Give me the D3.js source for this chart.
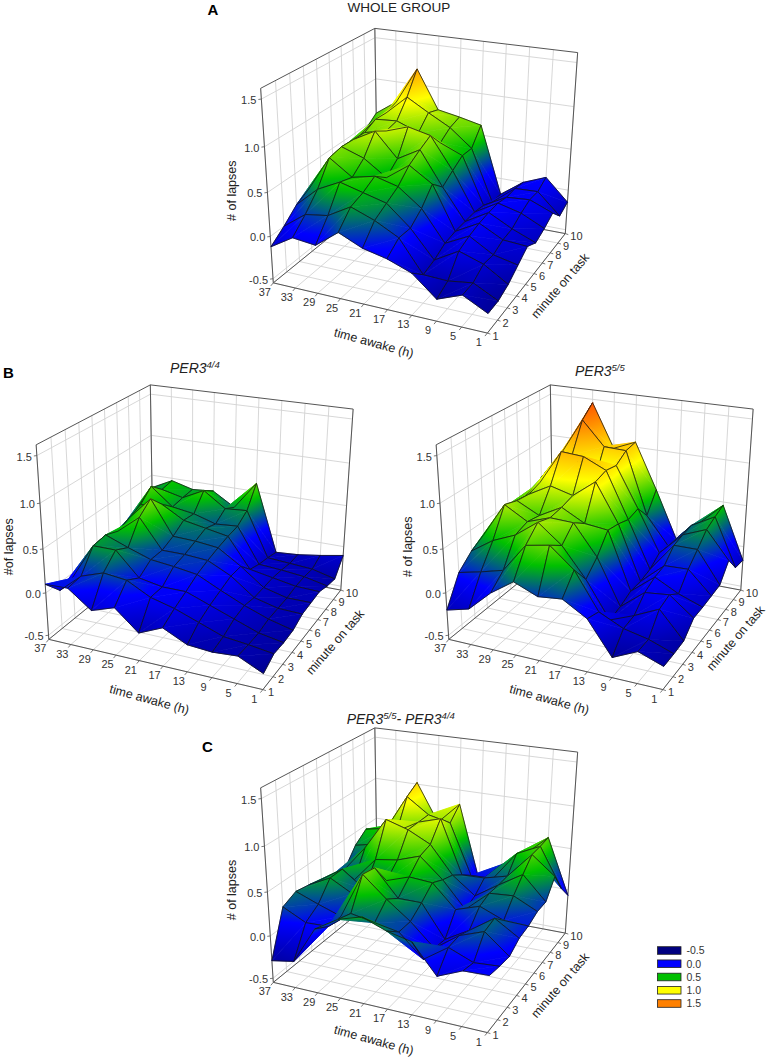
<!DOCTYPE html>
<html><head><meta charset="utf-8">
<script src="https://cdnjs.cloudflare.com/ajax/libs/d3/7.8.5/d3.min.js"></script>
<style>html,body{margin:0;padding:0;background:#fff}svg{display:block;font-family:"Liberation Sans",Arial,sans-serif}</style>
</head><body><svg id="c" width="767" height="1058"></svg>
<script>
// axis values
const timeTicks=[37,33,29,25,21,17,13,9,5,1];
const minuteTicks=[1,2,3,4,5,6,7,8,9,10];
const lapseTicks=[-0.5,0,0.5,1,1.5];
const legendLevels=[-0.5,0,0.5,1,1.5];
const legendColors=["#000080","#0000ff","#00c000","#ffff00","#ff8000"];
// each row = one minute on task (1..10), each column = one time awake (37..1)
const wholeGroup=[
[-.12,.04,.01,.21,.09,.03,-.07,-.30,-.19,-.33],
[.00,.19,.23,.38,.28,.14,-.22,-.23,-.19,-.33],
[.14,.37,.50,.43,.36,.13,-.18,-.02,-.11,-.28],
[.22,.63,.45,.51,.44,.24,-.11,.03,-.13,-.19],
[.29,.66,.57,.39,.58,.41,-.09,.06,-.08,-.10],
[.39,.65,.79,.51,.66,.27,-.09,.07,-.07,-.18],
[.43,.64,.70,.79,.73,.36,-.09,.07,.00,-.13],
[.41,.71,.73,.63,.55,.44,-.12,.03,.05,-.06],
[.46,.70,.93,.78,.64,.43,-.19,.03,.04,-.21],
[.57,.75,1.19,.73,.68,.62,-.20,.00,.11,-.15]];
const per44=[
[.10,.11,-.09,.00,-.23,-.11,-.24,-.26,-.24,-.37],
[-.09,.13,.22,.19,.05,-.02,-.12,-.22,-.25,-.29],
[-.05,.37,.37,.10,.05,.05,-.05,-.15,-.25,-.30],
[.08,.39,.29,.20,.17,.13,.00,-.12,-.22,-.29],
[.05,.33,.54,.20,.20,.18,.05,-.15,-.22,-.23],
[.05,.39,.66,.26,.25,.22,.05,-.15,-.22,-.22],
[.10,.45,.50,.35,.30,.25,-.10,-.15,-.20,-.21],
[.15,.58,.37,.33,.25,.27,-.15,-.17,-.20,-.26],
[.20,.45,.39,.52,.34,.36,-.18,-.20,-.22,-.29],
[.34,.47,.40,.42,.26,.60,-.22,-.20,-.16,-.11]];
const per55=[
[-.20,-.13,.11,.29,.18,.21,.05,-.32,-.19,-.29],
[.12,.18,.25,.58,.63,.41,.00,-.13,-.19,-.29],
[.26,.43,.54,.73,.52,.19,-.22,-.11,.02,-.28],
[.35,.74,.59,.68,.67,.33,-.19,.03,.06,-.15],
[.43,.69,.56,.70,.56,.53,-.13,.09,-.05,-.15],
[.50,.67,.81,.74,.94,.50,-.13,.11,.12,-.14],
[.45,.72,1.12,1.10,.98,.45,-.10,.24,.24,-.13],
[.41,.81,1.00,.71,.95,.48,-.01,.26,.37,.05],
[.56,.90,1.33,1.05,1.04,.30,-.03,.27,.42,-.15],
[.59,1.00,1.46,.95,1.06,.52,-.06,.20,.46,-.17]];
const perDiff=[
[-.29,-.24,.19,.35,.43,.33,.27,-.05,.07,.08],
[.22,.09,.10,.30,.25,.20,-.05,.14,.03,.05],
[.29,.19,.10,.63,.40,.20,-.05,.15,.25,.03],
[.26,.39,.25,.60,.30,.30,-.07,.09,.28,.11],
[.22,.39,.20,.35,.44,.42,.16,.25,.14,.13],
[.18,.16,.45,.49,.58,.35,.05,.29,.31,.18],
[.14,.45,.83,.75,.62,.30,.10,.28,.45,.18],
[.34,.40,.60,.75,.83,.20,.21,.28,.58,.37],
[.45,.50,.93,.75,.69,.09,.10,.45,.58,.12],
[.34,.47,1.02,.57,.83,-.09,.17,.34,.59,-.07]];

const colorStops=[-.5,.08,.45,.88,1.25,1.6];
const color=d3.scaleLinear().domain(colorStops)
  .range(["#00006e","#0000ff","#00c000","#ffff00","#ff9000","#ff3000"]).clamp(true);

const uScale=d3.scaleLinear().domain([37,1]).range([0,1]);
const vScale=d3.scaleLinear().domain([1,10]).range([0,1]);
const wScale=d3.scaleLinear().domain([-.55,1.61]).range([0,1]);

// box corners on the page for the first panel: [u,v,w,px,py]
const corners=[[0,0,0,274,282.7],[1,0,0,487.3,333.3],[1,1,0,565.7,233.3],[0,1,0,376.7,198.3],
               [0,0,1,260,88.3],[0,1,1,375.7,28.3],[1,1,1,577.3,52.7]];
function solve(A,b){const n=b.length,M=A.map((r,i)=>[...r,b[i]]);
  for(let c=0;c<n;c++){let p=c;for(let r=c+1;r<n;r++)if(Math.abs(M[r][c])>Math.abs(M[p][c]))p=r;
    [M[c],M[p]]=[M[p],M[c]];
    for(let r=0;r<n;r++)if(r!==c){const f=M[r][c]/M[c][c];for(let k=c;k<=n;k++)M[r][k]-=f*M[c][k];}}
  return M.map((r,i)=>r[n]/r[i]);}
const cam=(()=>{
  const rows=[],rhs=[];
  corners.forEach(([u,v,w,x,y])=>{
    rows.push([u,v,w,1,0,0,0,0,-x*u,-x*v,-x*w]);rhs.push(x);
    rows.push([0,0,0,0,u,v,w,1,-y*u,-y*v,-y*w]);rhs.push(y);});
  const n=11,A=d3.range(n).map(i=>d3.range(n).map(j=>d3.sum(rows,r=>r[i]*r[j]))),
        b=d3.range(n).map(i=>d3.sum(rows,(r,k)=>r[i]*rhs[k]));
  return solve(A,b);})();
function base(u,v,w){const d=cam[8]*u+cam[9]*v+cam[10]*w+1;
  return [(cam[0]*u+cam[1]*v+cam[2]*w+cam[3])/d,(cam[4]*u+cam[5]*v+cam[6]*w+cam[7])/d];}

const svg=d3.select("#c"),defs=svg.append("defs");
const line=d3.line();
const tickFmt=l=>d3.format(".1f")(l).replace("\u2212","-");
let gid=0;
function tri(g,p,z){
  const [a,b,c]=p,[za,zb,zc]=z;
  const d1=[b[0]-a[0],b[1]-a[1]],d2=[c[0]-a[0],c[1]-a[1]],dz1=zb-za,dz2=zc-za;
  const det=d1[0]*d2[1]-d1[1]*d2[0];
  const zmin=Math.min(za,zb,zc),zmax=Math.max(za,zb,zc);
  let paint;
  if(Math.abs(det)<1e-3||zmax-zmin<1e-4){paint=color((za+zb+zc)/3);}
  else{
    const gx=(dz1*d2[1]-dz2*d1[1])/det,gy=(d1[0]*dz2-d2[0]*dz1)/det,n=gx*gx+gy*gy;
    const id="g"+(gid++);
    const lg=defs.append("linearGradient").attr("id",id).attr("gradientUnits","userSpaceOnUse")
      .attr("x1",a[0]+gx*(zmin-za)/n).attr("y1",a[1]+gy*(zmin-za)/n)
      .attr("x2",a[0]+gx*(zmax-za)/n).attr("y2",a[1]+gy*(zmax-za)/n);
    const lv=[zmin,...colorStops.filter(l=>l>zmin&&l<zmax),zmax];
    lv.forEach(l=>lg.append("stop").attr("offset",(l-zmin)/(zmax-zmin)).attr("stop-color",color(l)));
    paint=`url(#${id})`;
  }
  g.append("path").attr("d",line(p)+"Z").attr("fill",paint).attr("stroke",paint).attr("stroke-width",.7);
}
function panel(dx,dy,data,yTitle,yTitlePos,minutePos,timePos){
  const P=(u,v,w)=>{const q=base(u,v,w);return [q[0]+dx,q[1]+dy];};
  const g=svg.append("g");
  const grid=g.append("g").attr("fill","none").attr("stroke","#d2d2d2").attr("stroke-width",.9);
  const seg=(sel,a,b)=>sel.append("path").attr("d",line([a,b]));
  timeTicks.forEach(t=>{const u=uScale(t);seg(grid,P(u,0,0),P(u,1,0));seg(grid,P(u,1,0),P(u,1,1));});
  minuteTicks.forEach(m=>{const v=vScale(m);seg(grid,P(0,v,0),P(1,v,0));seg(grid,P(0,v,0),P(0,v,1));});
  lapseTicks.forEach(l=>{const w=wScale(l);seg(grid,P(0,0,w),P(0,1,w));seg(grid,P(0,1,w),P(1,1,w));});
  const box=g.append("g").attr("fill","none").attr("stroke","#555").attr("stroke-width",1);
  [[[0,0,0],[1,0,0]],[[1,0,0],[1,1,0]],[[0,0,0],[0,0,1]],[[0,0,1],[0,1,1]],[[0,1,1],[1,1,1]],[[1,1,1],[1,1,0]],[[0,1,0],[0,1,1]],
   [[0,0,0],[0,1,0]],[[0,1,0],[1,1,0]]].forEach(([a,b])=>seg(box,P(...a),P(...b)));
  const tk=g.append("g").attr("fill","none").attr("stroke","#555").attr("stroke-width",.8);
  const lab=g.append("g").attr("font-size",11).attr("fill","#333");
  lapseTicks.forEach(l=>{const p=P(0,0,wScale(l));seg(tk,p,[p[0]-3,p[1]+.4]);
    lab.append("text").attr("font-size",11).attr("x",p[0]-5).attr("y",p[1]+5).attr("text-anchor","end").text(tickFmt(l));});
  timeTicks.forEach(t=>{const p=P(uScale(t),0,0);seg(tk,p,[p[0]-2.5,p[1]+3]);
    lab.append("text").attr("font-size",11).attr("x",p[0]-8.5).attr("y",p[1]+13).attr("text-anchor","middle").text(t);});
  minuteTicks.forEach(m=>{const p=P(1,vScale(m),0);seg(tk,p,[p[0]+3,p[1]+1]);
    lab.append("text").attr("font-size",11).attr("x",p[0]+5).attr("y",p[1]+6.5).text(m);});
  const surf=g.append("g");
  const V=(i,j)=>P(uScale(timeTicks[i]),vScale(minuteTicks[j]),wScale(data[j][i]));
  for(let i=0;i<timeTicks.length-1;i++)for(let j=minuteTicks.length-2;j>=0;j--){
    const a=V(i,j+1),b=V(i+1,j+1),c=V(i+1,j),d=V(i,j);
    const za=data[j+1][i],zb=data[j+1][i+1],zc=data[j][i+1],zd=data[j][i];
    const cell=surf.append("g");
    tri(cell,[a,b,d],[za,zb,zd]);tri(cell,[b,c,d],[zb,zc,zd]);
    cell.append("path").attr("d",line([a,b,c,d])+"Z").attr("fill","none").attr("stroke","#111").attr("stroke-width",.75);
  }
  const f=g.append("g").attr("fill","#222");
  f.append("text").attr("font-size",12.5).attr("transform",`translate(${timePos[0]},${timePos[1]}) rotate(15.5)`).attr("text-anchor","middle").attr("dy","0.35em").text("time awake (h)");
  f.append("text").attr("font-size",12.5).attr("transform",`translate(${minutePos[0]},${minutePos[1]}) rotate(-49)`).attr("text-anchor","middle").attr("dy","0.35em").text("minute on task");
  f.append("text").attr("font-size",12.5).attr("transform",`translate(${yTitlePos[0]},${yTitlePos[1]}) rotate(-90)`).attr("text-anchor","middle").attr("dy","0.35em").text(yTitle);
}
panel(0,0,wholeGroup,"# of lapses",[231.7,190.7],[560,285.7],[374,342.7]);
panel(-224.5,356.5,per44,"#of lapses",[8.3,546.7],[335,642],[149.5,699.2]);
panel(175.5,356.5,per55,"# of lapses",[408,546.7],[735.5,638],[549.5,699.2]);
panel(0,699.5,perDiff,"# of lapses",[231.7,890],[560,985.2],[374,1040]);

const hd=svg.append("g").attr("fill","#222");
hd.append("text").attr("x",399).attr("y",11.5).attr("font-size",13.5).attr("text-anchor","middle").text("WHOLE GROUP");
const per=(x,y,parts)=>{const t=hd.append("text").attr("x",x).attr("y",y).attr("font-size",14).attr("font-style","italic");
  let prevSup=false;
  parts.forEach(([s,sup])=>{t.append("tspan").attr("font-size",sup?9.5:14).attr("dy",sup?-5:(prevSup?5:0)).text(s);prevSup=sup;});};
per(170,373,[["PER3",0],["4/4",1]]);
per(575,375.5,[["PER3",0],["5/5",1]]);
per(346.7,724,[["PER3",0],["5/5",1],["- PER3",0],["4/4",1]]);
const bold=[["A",207.5,15],["B",3,378],["C",202,752]];
svg.append("g").selectAll("text").data(bold).join("text").attr("x",d=>d[1]).attr("y",d=>d[2]).attr("font-size",15).attr("font-weight","bold").attr("fill","#000").text(d=>d[0]);

const legendY=d3.scalePoint().domain(legendLevels).range([950.5,1003.5]);
const lg=svg.append("g");
legendLevels.forEach((l,k)=>{
  lg.append("rect").attr("x",657.5).attr("y",legendY(l)-3.8).attr("width",23.5).attr("height",7.6).attr("fill",legendColors[k]).attr("stroke","#222").attr("stroke-width",.8);
  lg.append("text").attr("x",686.5).attr("y",legendY(l)+3.8).attr("font-size",10.5).attr("fill","#333").text(tickFmt(l));
});
</script></body></html>
